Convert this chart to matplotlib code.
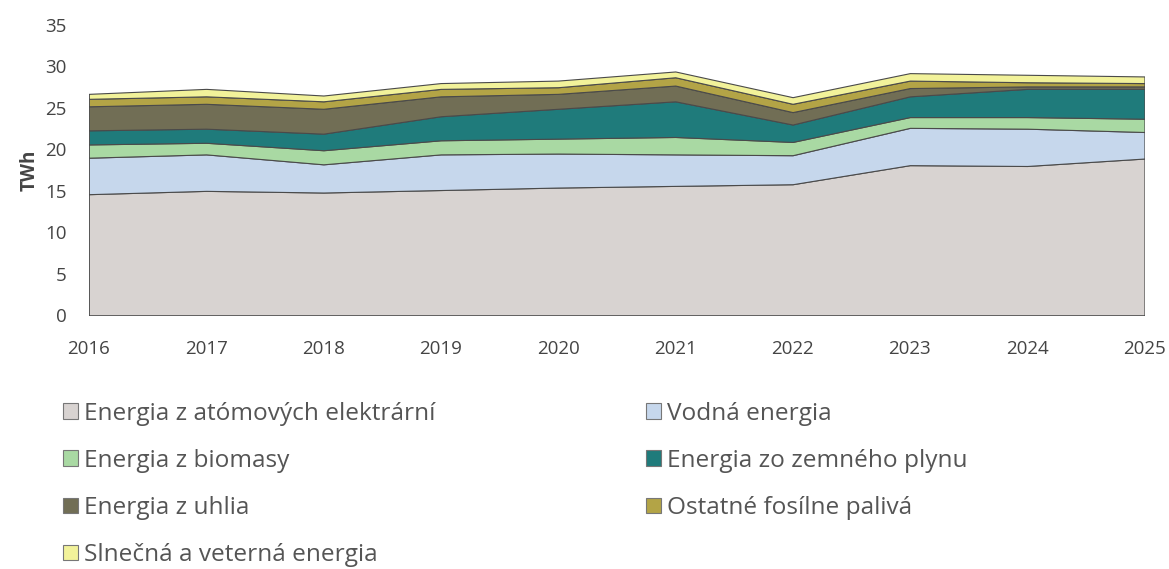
import numpy as np
import matplotlib
matplotlib.use("Agg")
import matplotlib.pyplot as plt
from matplotlib.patches import Patch

years = [2016, 2017, 2018, 2019, 2020, 2021, 2022, 2023, 2024, 2025]

# layer values in TWh (read as stacked increments)
nuclear = [14.6, 15.0, 14.8, 15.1, 15.4, 15.6, 15.8, 18.1, 18.0, 18.9]
hydro = [4.4, 4.4, 3.4, 4.3, 4.1, 3.8, 3.5, 4.5, 4.5, 3.2]
biomass = [1.6, 1.4, 1.7, 1.7, 1.8, 2.1, 1.6, 1.3, 1.4, 1.6]
gas = [1.7, 1.7, 2.0, 2.9, 3.6, 4.3, 2.1, 2.5, 3.4, 3.6]
coal = [2.9, 3.0, 3.0, 2.4, 1.8, 1.9, 1.5, 1.0, 0.3, 0.3]
other = [0.9, 0.9, 0.9, 0.9, 0.8, 1.0, 1.0, 0.9, 0.5, 0.4]
solar_wind = [0.6, 0.9, 0.7, 0.7, 0.8, 0.7, 0.8, 0.9, 0.9, 0.8]

labels = ["Energia z atómových elektrární", "Vodná energia", "Energia z biomasy",
          "Energia zo zemného plynu", "Energia z uhlia", "Ostatné fosílne palivá",
          "Slnečná a veterná energia"]
colors = ["#d8d3d1", "#c6d7ec", "#a9d9a3", "#1f7b7b", "#716e55", "#b3a446", "#f2f29a"]

plt.rcParams["font.family"] = ["Open Sans", "DejaVu Sans"]

fig = plt.figure(figsize=(11.69, 5.69), dpi=100)
ax = fig.add_axes([0.076, 0.446, 0.903, 0.51])

series = [nuclear, hydro, biomass, gas, coal, other, solar_wind]
ax.stackplot(years, *series, colors=colors, edgecolor="#4a4a4a", linewidth=0.8)

ax.set_xlim(2016, 2025)
ax.set_ylim(0, 35)
ax.set_yticks(range(0, 36, 5))
ax.set_xticks(years)
for s in ax.spines.values():
    s.set_visible(False)
ax.tick_params(length=0, labelsize=13.5, colors="#444444")
ax.tick_params(axis="x", pad=18)
ax.tick_params(axis="y", pad=16)
ax.set_ylabel("TWh", fontsize=13.5, fontweight="bold", color="#444444", labelpad=4)

order = [0, 2, 4, 6, 1, 3, 5]
handles = [Patch(facecolor=colors[i], edgecolor="#777777", linewidth=0.8) for i in order]
fig.legend(handles, [labels[i] for i in order], ncol=2, loc="upper left",
           bbox_to_anchor=(0.0355, 0.333), frameon=False, fontsize=17.6,
           handlelength=0.6, handleheight=0.6, handletextpad=0.25,
           columnspacing=8.6, labelspacing=0.95, labelcolor="#555555")

fig.savefig("out.png", dpi=100)
